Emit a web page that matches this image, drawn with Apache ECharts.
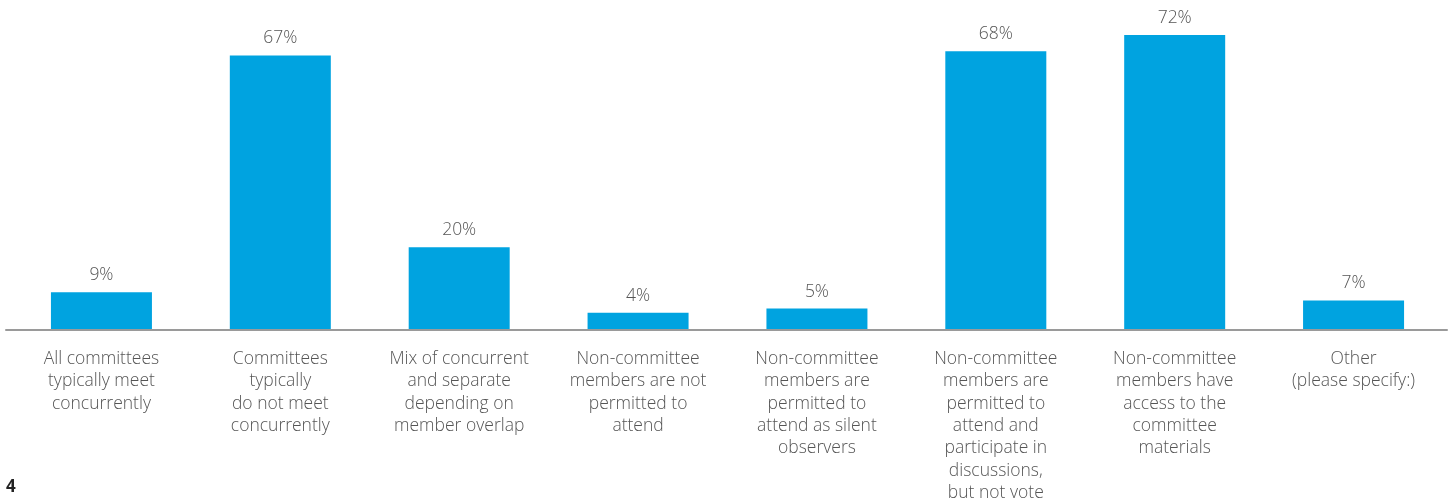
<!DOCTYPE html>
<html>
<head>
<meta charset="utf-8">
<style>
  html, body { margin: 0; padding: 0; background: #fff; }
  #chart { width: 1454px; height: 498px; }
</style>
<script src="https://cdn.jsdelivr.net/npm/echarts@6/dist/echarts.min.js"></script>
</head>
<body>
<div id="chart"></div>
<script>
// Committee meeting practices, share of respondents (%)
const categories = [
  'All committees\ntypically meet\nconcurrently',
  'Committees\ntypically\ndo not meet\nconcurrently',
  'Mix of concurrent\nand separate\ndepending on\nmember overlap',
  'Non-committee\nmembers are not\npermitted to\nattend',
  'Non-committee\nmembers are\npermitted to\nattend as silent\nobservers',
  'Non-committee\nmembers are\npermitted to\nattend and\nparticipate in\ndiscussions,\nbut not vote',
  'Non-committee\nmembers have\naccess to the\ncommittee\nmaterials',
  'Other\n(please specify:)'
];
const values = [9, 67, 20, 4, 5, 68, 72, 7];
const pageNumber = '4';

const textFont = '"Open Sans", "Noto Sans", sans-serif';
const chart = echarts.init(document.getElementById('chart'));

chart.setOption({
  animation: false,
  grid: [
    { left: 12, right: 11, top: 35, bottom: 169, outerBoundsMode: 'none' },
    { left: 6, right: 7, top: 35, bottom: 168, outerBoundsMode: 'none' }
  ],
  xAxis: [
    {
      type: 'category',
      gridIndex: 0,
      data: categories,
      axisLine: { show: false },
      axisTick: { show: false },
      axisLabel: {
        interval: 0,
        margin: 19,
        color: '#555',
        fontFamily: textFont,
        fontWeight: 300,
        fontSize: 17.5,
        lineHeight: 22.3
      }
    },
    {
      type: 'category',
      gridIndex: 1,
      data: ['axis'],
      axisLine: { show: true, lineStyle: { color: '#9a9a9a', width: 2 } },
      axisTick: { show: false },
      axisLabel: { show: false }
    }
  ],
  yAxis: [
    { type: 'value', gridIndex: 0, min: 0, max: 72, show: false },
    { type: 'value', gridIndex: 1, min: 0, max: 1, show: false }
  ],
  series: [
    {
      type: 'bar',
      xAxisIndex: 0,
      yAxisIndex: 0,
      data: values,
      barWidth: 101,
      itemStyle: { color: '#00a3e0' },
      label: {
        show: true,
        position: 'top',
        distance: 8,
        formatter: '{c}%',
        color: '#555',
        fontFamily: textFont,
        fontWeight: 300,
        fontSize: 17.5
      },
      z: 3
    }
  ],
  graphic: [
    {
      type: 'text',
      left: 6,
      top: 479,
      style: {
        text: pageNumber,
        fill: '#222',
        font: 'bold 17px ' + textFont
      }
    }
  ]
});
</script>
</body>
</html>
